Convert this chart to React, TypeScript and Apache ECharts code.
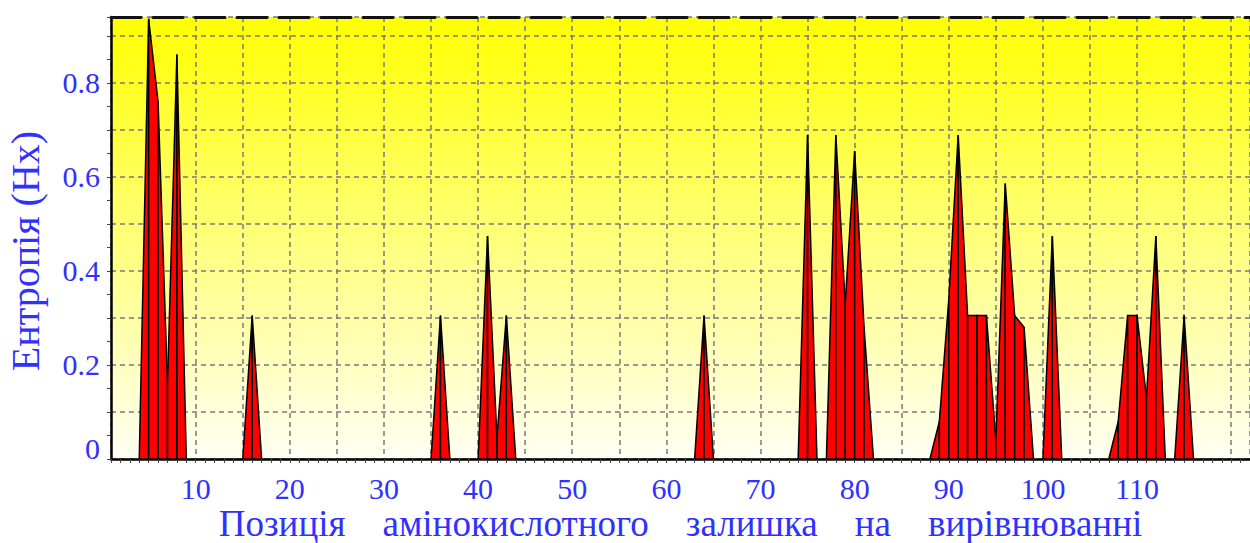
import React, { useEffect, useRef } from "react";
import * as echarts from "echarts";

// Alignment positions (residues) with non-zero entropy, and their values
const positions = [5, 6, 7, 8, 16, 36, 41, 42, 43, 64, 75, 78, 79, 80, 81, 89, 90, 91, 92, 93, 94, 95, 96, 97, 98, 101, 108, 109, 110, 111, 112, 115];
const entropy = [0.935, 0.76, 0.16, 0.86, 0.305, 0.305, 0.474, 0.045, 0.305, 0.305, 0.689, 0.689, 0.33, 0.655, 0.28, 0.08, 0.34, 0.689, 0.305, 0.305, 0.305, 0.04, 0.586, 0.305, 0.28, 0.474, 0.08, 0.305, 0.305, 0.13, 0.474, 0.305];

const xTickLabels = [10, 20, 30, 40, 50, 60, 70, 80, 90, 100, 110];
const yTickLabels = [0, 0.2, 0.4, 0.6, 0.8];

const X_MIN = 1;
const X_MAX = 122;
const Y_MAX = 0.94;

const BLUE = "#3030ff";
const SERIF = "'Liberation Serif', 'Times New Roman', 'DejaVu Serif', serif";

function buildSegments() {
  const map = new Map<number, number>();
  positions.forEach((p, i) => map.set(p, entropy[i]));
  const segs: number[][] = [];
  for (let u = X_MIN; u < X_MAX; u++) {
    const a = map.get(u) ?? 0;
    const b = map.get(u + 1) ?? 0;
    if (a > 0 || b > 0) segs.push([u, a, u + 1, b]);
  }
  return segs;
}

export default function App() {
  const ref = useRef<HTMLDivElement>(null);

  useEffect(() => {
    document.body.style.margin = "0";
    const chart = echarts.init(ref.current!, null, { renderer: "svg" });
    const segments = buildSegments();

    const option: any = {
      animation: false,
      backgroundColor: "#ffffff",
      grid: {
        left: 111,
        right: 0,
        top: 17,
        bottom: 84,
        containLabel: false,
        outerBoundsMode: "none",
        show: true,
        borderWidth: 0,
        backgroundColor: new echarts.graphic.LinearGradient(0, 0, 0, 1, [
          { offset: 0, color: "#ffff00" },
          { offset: 1, color: "#fffff4" },
        ]),
      },
      xAxis: [
        {
          type: "value",
          min: X_MIN,
          max: X_MAX,
          splitNumber: 24,
          position: "bottom",
          axisLine: { show: true, onZero: false, lineStyle: { color: "#000", width: 2.5 } },
          axisTick: { show: false },
          axisLabel: {
            show: true,
            margin: 14,
            color: BLUE,
            fontFamily: SERIF,
            fontSize: 30,
            formatter: (v: number) => (xTickLabels.includes(v) ? String(v) : ""),
          },
          splitLine: {
            show: true,
            lineStyle: { color: "#7a7a7a", type: [5, 4], width: 1.5 },
          },
          name: "Позиція    амінокислотного    залишка    на    вирівнюванні",
          nameLocation: "middle",
          nameGap: 45,
          nameMoveOverlap: false,
          nameTextStyle: { color: BLUE, fontFamily: SERIF, fontSize: 37, lineHeight: 38 },
        },
        {
          type: "value",
          min: X_MIN,
          max: X_MAX,
          splitNumber: 121,
          position: "bottom",
          axisLine: { show: false },
          axisTick: { show: true, length: 4, lineStyle: { color: "#444", width: 1 } },
          axisLabel: { show: false },
          splitLine: { show: false },
        },
        {
          type: "value",
          min: X_MIN,
          max: X_MAX,
          position: "top",
          axisLine: { show: true, onZero: false, lineStyle: { color: "#111", width: 3, type: [30, 12] } },
          axisTick: { show: false },
          axisLabel: { show: false },
          splitLine: { show: false },
        },
      ],
      yAxis: {
        type: "value",
        min: 0,
        max: Y_MAX,
        interval: 0.1,
        axisLine: { show: true, onZero: false, lineStyle: { color: "#000", width: 2.5 } },
        axisTick: { show: true, length: 4, lineStyle: { color: "#444" } },
        minorTick: { show: true, splitNumber: 2, length: 4, lineStyle: { color: "#444" } },
        axisLabel: {
          margin: 11,
          color: BLUE,
          fontFamily: SERIF,
          fontSize: 30,
          formatter: (v: number) => {
            const r = Math.round(v * 10) / 10;
            const hit = yTickLabels.find((t) => Math.abs(t - r) < 1e-9 && Math.abs(v - r) < 1e-6);
            if (hit === undefined) return "";
            if (hit === 0) return "{z|0}";
            return String(hit);
          },
          rich: {
            z: { color: BLUE, fontFamily: SERIF, fontSize: 30, padding: [0, 0, 22, 0] },
          },
        },
        splitLine: {
          show: true,
          lineStyle: { color: "#7a7a7a", type: [5, 4], width: 1.5 },
        },
        name: "Ентропія (Hx)",
        nameLocation: "middle",
        nameGap: 66,
        nameMoveOverlap: false,
        nameTextStyle: { color: BLUE, fontFamily: SERIF, fontSize: 40, padding: [0, 26, 0, 0] },
      },
      series: [
        {
          type: "custom",
          xAxisIndex: 0,
          yAxisIndex: 0,
          data: segments,
          encode: { x: [0, 2], y: [1, 3] },
          renderItem: (params: any, api: any) => {
            const x0 = api.value(0);
            const y0 = api.value(1);
            const x1 = api.value(2);
            const y1 = api.value(3);
            const p0 = api.coord([x0, 0]);
            const p1 = api.coord([x0, y0]);
            const p2 = api.coord([x1, y1]);
            const p3 = api.coord([x1, 0]);
            return {
              type: "polygon",
              shape: { points: [p0, p1, p2, p3] },
              style: { fill: "#ff0000", stroke: "#000000", lineWidth: 1.5 },
            };
          },
        },
      ],
    };

    chart.setOption(option);
    return () => chart.dispose();
  }, []);

  return <div ref={ref} style={{ width: 1250, height: 543 }} />;
}
